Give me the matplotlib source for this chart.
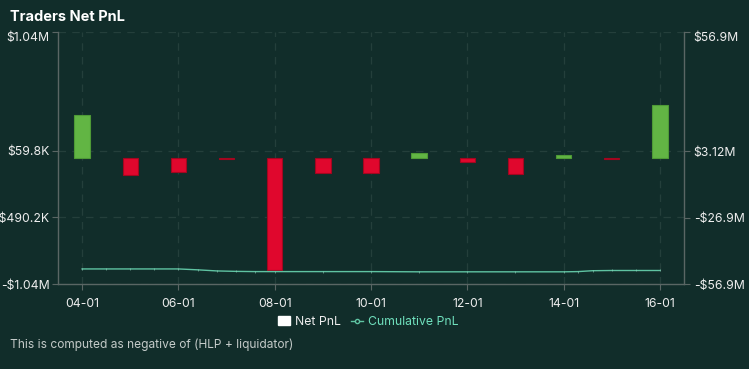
import numpy as np
import matplotlib
matplotlib.use('Agg')
import matplotlib.pyplot as plt
import matplotlib.transforms as mtransforms
from matplotlib.patches import Patch
from matplotlib.lines import Line2D

plt.rcParams['font.family'] = ['Inter', 'DejaVu Sans']

# monthly net pnl (USD) and cumulative pnl (USD)
months = ['04-01', '05-01', '06-01', '07-01', '08-01', '09-01', '10-01',
          '11-01', '12-01', '13-01', '14-01', '15-01', '16-01']
net_pnl = [352e3, -140e3, -116e3, -8e3, -925e3, -121e3, -127e3,
           39e3, -30e3, -135e3, 25e3, -8e3, 437e3]

cum_pos = [0, 0.5, 1, 1.5, 2, 2.4, 2.8, 3.2, 3.6, 4, 5, 6, 7, 8, 9, 10,
           10.3, 10.6, 11, 11.5, 12]
cum_pnl = [-50.1e6, -50.1e6, -50.1e6, -50.1e6, -50.1e6, -50.5e6, -51.0e6,
           -51.2e6, -51.3e6, -51.3e6, -51.3e6, -51.3e6, -51.4e6, -51.4e6,
           -51.4e6, -51.4e6, -51.3e6, -50.9e6, -50.8e6, -50.8e6, -50.8e6]

left_ticks = [-1.04e6, -490.2e3, 59.8e3, 1.04e6]
left_labels = ['-$1.04M', '-$490.2K', '$59.8K', '$1.04M']
right_ticks = [-56.9e6, -26.9e6, 3.12e6, 56.9e6]
right_labels = ['-$56.9M', '-$26.9M', '$3.12M', '$56.9M']

bg = '#112d2a'
green = '#62b544'
red = '#e0072d'
line_col = '#5fc3a2'
grid_col = '#243f3b'
spine_col = '#5a6664'
txt = '#eeeeee'

fig = plt.figure(figsize=(7.49, 3.69), dpi=100)
fig.patch.set_facecolor(bg)
ax = fig.add_axes([58 / 749, 85 / 369, 626 / 749, 252 / 369])
ax.set_facecolor(bg)

x = np.arange(len(months))
colors = [green if v >= 0 else red for v in net_pnl]
edges = ['#4e9a36' if v >= 0 else '#a3061f' for v in net_pnl]
ax.bar(x, net_pnl, width=0.32, color=colors, edgecolor=edges, linewidth=0.8, zorder=3)

ax.set_xlim(-0.5, len(months) - 0.5)
ax.set_ylim(-1.04e6, 1.04e6)
ax.set_yticks(left_ticks)
ax.set_yticklabels(left_labels)
ax.set_xticks(x[::2])
ax.set_xticklabels(months[::2])

ax2 = ax.twinx()
ax2.plot(cum_pos, cum_pnl, color=line_col, linewidth=1.0, zorder=4,
         marker='|', markersize=1.8, markeredgewidth=0.4, markeredgecolor='#8fd3bc')
ax2.set_ylim(-56.9e6, 56.9e6)
ax2.set_yticks(right_ticks)
ax2.set_yticklabels(right_labels)

for a in (ax, ax2):
    for s in a.spines.values():
        s.set_visible(False)
    a.tick_params(colors=spine_col, labelcolor=txt, labelsize=8.8, length=4, width=0.8)
ax.spines['left'].set_visible(True)
ax.spines['bottom'].set_visible(True)
ax2.spines['right'].set_visible(True)
for s in (ax.spines['left'], ax.spines['bottom'], ax2.spines['right']):
    s.set_color(spine_col)
    s.set_linewidth(1.0)
ax.tick_params(axis='y', pad=2)
ax2.tick_params(axis='y', pad=3)
ax.tick_params(axis='x', pad=6)

ax.grid(True, color=grid_col, linestyle=(0, (6, 5)), linewidth=0.9, zorder=0)
ax.set_axisbelow(True)

# top labels sit a bit below the top edge
shift = mtransforms.ScaledTranslation(0, -5 / 100, fig.dpi_scale_trans)
ax.get_yticklabels()[-1].set_transform(ax.get_yticklabels()[-1].get_transform() + shift)
ax2.get_yticklabels()[-1].set_transform(ax2.get_yticklabels()[-1].get_transform() + shift)

fig.text(10 / 749, 1 - 17 / 369, 'Traders Net PnL', color='white', fontsize=10.5,
         fontweight='bold', va='center', ha='left')
fig.text(10 / 749, 1 - 345 / 369, 'This is computed as negative of (HLP + liquidator)',
         color='#c4cbc9', fontsize=8.6, va='center', ha='left')

# legend
handles = [Patch(facecolor='white', edgecolor='white'),
           Line2D([0], [0], color=line_col, marker='o', markersize=3,
                  markerfacecolor=bg, markeredgecolor=line_col, linewidth=1)]
leg = fig.legend(handles, ['Net PnL', 'Cumulative PnL'], loc='center',
                 bbox_to_anchor=(368 / 749, 1 - 322 / 369), ncol=2, frameon=False,
                 fontsize=8.8, handlelength=1.0, handleheight=0.8, handletextpad=0.4,
                 columnspacing=0.8)
leg.get_texts()[0].set_color(txt)
leg.get_texts()[1].set_color('#6fe0bd')

fig.savefig('out.png', dpi=100, facecolor=bg)
